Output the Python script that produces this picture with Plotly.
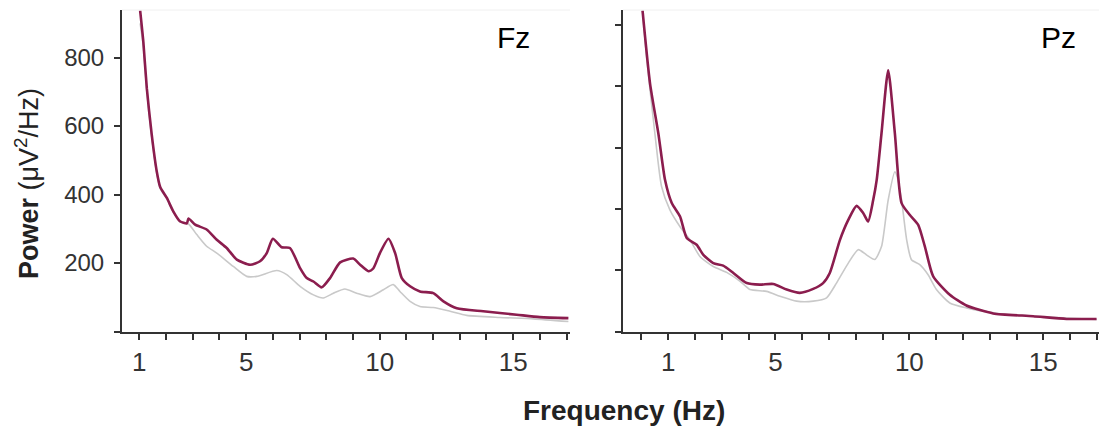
import plotly.graph_objs as go

# Fz (left panel)
fz_freq_a = [1.03, 1.15, 1.28, 1.46, 1.65, 1.78, 2.03, 2.27, 2.52, 2.78, 2.84, 3.09, 3.52, 3.90,
             4.27, 4.65, 5.15, 5.52, 5.77, 6.00, 6.33, 6.64, 7.02, 7.27, 7.52, 7.83, 8.14, 8.52,
             9.01, 9.27, 9.58, 9.76, 10.01, 10.33, 10.58, 10.83, 11.14, 11.51, 12.01, 12.39,
             12.89, 13.88, 15.13, 16.00, 17.07]
fz_power_a = [937, 845, 710, 577, 468, 422, 390, 351, 322, 316, 330, 312, 298, 268,
              244, 210, 195, 205, 229, 271, 246, 244, 185, 156, 146, 129, 156, 202,
              213, 195, 176, 184, 229, 271, 229, 156, 132, 117, 112, 88,
              68, 59, 49, 42, 39]

fz_freq_b = [1.03, 1.15, 1.28, 1.46, 1.65, 1.78, 2.03, 2.27, 2.52, 2.84, 3.15, 3.52, 3.90,
             4.52, 5.02, 5.40, 6.15, 6.52, 7.02, 7.52, 7.89, 8.27, 8.70, 9.14, 9.64,
             10.14, 10.51, 10.76, 11.14, 11.51, 12.01, 12.64, 13.26, 14.50, 15.76, 17.07]
fz_power_b = [900, 832, 702, 570, 465, 418, 388, 349, 320, 314, 283, 249, 229,
              190, 161, 161, 178, 166, 132, 107, 98, 112, 124, 112, 102,
              122, 137, 117, 88, 73, 70, 59, 47, 41, 37, 29]

# Pz (right panel)
pz_freq_a = [0.04, 0.32, 0.63, 0.88, 1.13, 1.44, 1.69, 2.06, 2.31, 2.68, 3.05, 3.43, 3.93,
             4.42, 4.92, 5.42, 5.91, 6.41, 6.78, 7.03, 7.41, 7.72, 8.03, 8.28, 8.46, 8.65,
             8.78, 8.96, 9.21, 9.46, 9.71, 10.02, 10.33, 10.58, 10.89, 11.51, 12.13, 13.13,
             14.62, 15.87, 16.99]
pz_power_a = [1047, 809, 646, 494, 419, 375, 305, 283, 250, 223, 215, 191, 158,
              153, 155, 137, 126, 139, 158, 191, 299, 364, 410, 386, 359, 429,
              494, 646, 852, 646, 419, 380, 348, 277, 180, 120, 85, 59,
              50, 41, 41]

pz_freq_b = [0.04, 0.19, 0.50, 0.75, 1.06, 1.44, 1.81, 2.18, 2.68, 3.18, 3.68, 4.05, 4.67,
             5.17, 5.79, 6.41, 6.91, 7.28, 7.72, 8.09, 8.40, 8.71, 8.96, 9.21, 9.46, 9.58,
             9.71, 9.90, 10.08, 10.39, 10.70, 11.01, 11.51, 12.13, 13.38, 14.62, 16.99]
pz_power_b = [1047, 895, 646, 473, 397, 342, 299, 245, 212, 193, 164, 137, 131,
              115, 99, 99, 110, 158, 223, 267, 250, 235, 277, 429, 521, 494,
              429, 299, 234, 218, 185, 137, 93, 77, 58, 50, 39]

freq_labels = [1, 5, 10, 15]
power_labels = [200, 400, 600, 800]
panel_names = ["Fz", "Pz"]

W, H = 1108, 428
PAGE = 8  # default body margin of the html page
MAROON = "#8b1d4e"
GRAY = "#c9c9c9"
AXIS = "#333333"
FONT = "Liberation Sans, Arial, sans-serif"


def px_x(p):
    return (p - PAGE) / W


def px_y(p):
    return 1 - (p - PAGE) / H


def add_pair(fig, freq_a, power_a, freq_b, power_b, xa, ya):
    fig.add_trace(go.Scatter(x=freq_b, y=power_b, mode="lines", xaxis=xa, yaxis=ya,
                             line=dict(color=GRAY, width=1.6, shape="spline", smoothing=0.6),
                             showlegend=False, hoverinfo="skip"))
    fig.add_trace(go.Scatter(x=freq_a, y=power_a, mode="lines", xaxis=xa, yaxis=ya,
                             line=dict(color=MAROON, width=2.6, shape="spline", smoothing=0.6),
                             showlegend=False, hoverinfo="skip"))


def tick_style():
    return dict(ticks="outside", ticklen=6, tickwidth=1.5, tickcolor=AXIS)


def x_axis(dom, rng, anchor):
    return dict(domain=dom, range=rng, anchor=anchor, showline=True, linecolor=AXIS,
                linewidth=2, showgrid=False, zeroline=False, **tick_style(),
                tickmode="array", tickvals=freq_labels,
                minor=dict(tick0=0, dtick=1, **tick_style()),
                tickfont=dict(family=FONT, size=26, color="#333"), fixedrange=True)


def y_axis(dom, rng, anchor, labelled):
    return dict(domain=dom, range=rng, anchor=anchor, showline=True, linecolor=AXIS,
                linewidth=2, showgrid=False, zeroline=False, **tick_style(),
                tickmode="array", tickvals=power_labels, showticklabels=labelled,
                minor=dict(tick0=0, dtick=200, **tick_style()),
                ticklabelstandoff=5, tickfont=dict(family=FONT, size=24, color="#333"),
                fixedrange=True)


fig = go.Figure()
add_pair(fig, fz_freq_a, fz_power_a, fz_freq_b, fz_power_b, "x", "y")
add_pair(fig, pz_freq_a, pz_power_a, pz_freq_b, pz_power_b, "x2", "y2")

ydom = [px_y(331.5), px_y(10)]
left = [px_x(122), px_x(570)]
right = [px_x(623), px_x(1099)]

fig.update_layout(
    width=W, height=H,
    margin=dict(l=0, r=0, t=0, b=0),
    paper_bgcolor="white", plot_bgcolor="white",
    xaxis=x_axis(left, [0.35, 17.13], "y"),
    yaxis=y_axis(ydom, [0, 939], "x", True),
    xaxis2=x_axis(right, [-0.69, 17.08], "y2"),
    yaxis2=y_axis(ydom, [0, 1049], "x2", False),
)

# faint top border of each panel
for dom in (left, right):
    fig.add_shape(type="line", xref="paper", yref="paper", x0=dom[0], x1=dom[1],
                  y0=ydom[1], y1=ydom[1], line=dict(color="#f0f0f0", width=1))

for name, cx in zip(panel_names, (513, 1058)):
    fig.add_annotation(text=name, x=px_x(cx), y=px_y(37), xref="paper", yref="paper",
                       xanchor="center", yanchor="middle", showarrow=False,
                       font=dict(family=FONT, size=30, color="black"))

fig.add_annotation(text="<b>Power</b> (μV<sup>2</sup>/Hz)", x=px_x(27), y=px_y(184),
                   xref="paper", yref="paper", xanchor="center", yanchor="middle",
                   showarrow=False, textangle=-90,
                   font=dict(family=FONT, size=27, color="#222"))
fig.add_annotation(text="<b>Frequency (Hz)</b>", x=px_x(624), y=px_y(410),
                   xref="paper", yref="paper", xanchor="center", yanchor="middle",
                   showarrow=False,
                   font=dict(family=FONT, size=28, color="#222"))

fig.write_html("out.html")
